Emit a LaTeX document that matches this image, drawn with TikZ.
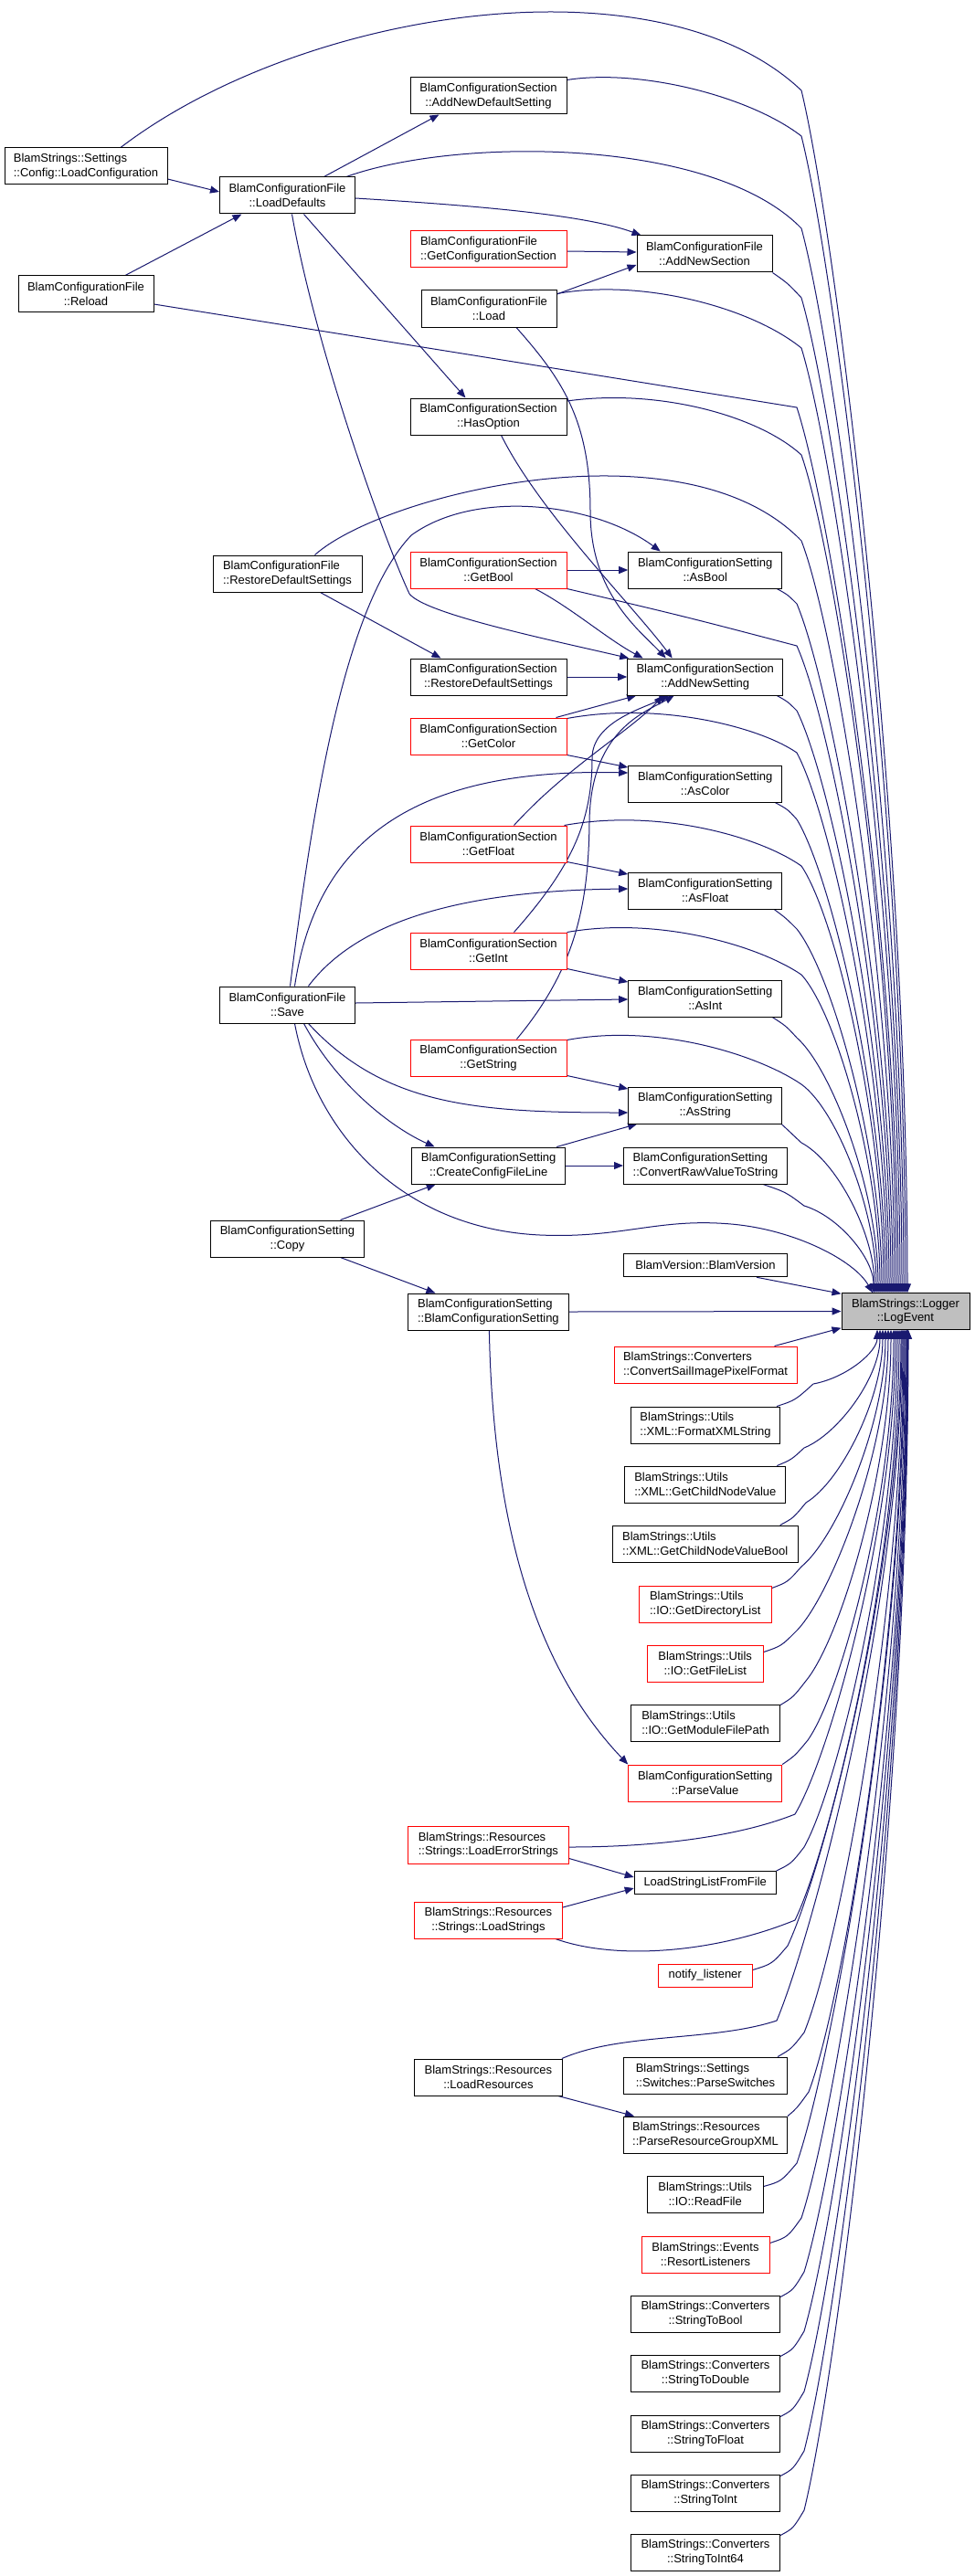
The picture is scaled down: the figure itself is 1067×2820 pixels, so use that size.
\documentclass[tikz,border=0pt]{standalone}
\usepackage{fontspec}
\setmainfont{Liberation Sans}
\usetikzlibrary{arrows.meta,calc}
\definecolor{edgec}{HTML}{191970}
\definecolor{legray}{HTML}{BFBFBF}
\newcommand{\gfont}{\fontsize{13pt}{15.5pt}\selectfont}
\pgfdeclarelayer{bg}
\pgfsetlayers{bg,main}
\tikzset{
 box/.style={draw=black, line width=1pt, fill=white, inner sep=0pt, align=center, font=\gfont, minimum height=40pt},
 rbox/.style={box, draw=red},
 lft/.style={align=left},
 edge/.style={draw=edgec, line width=1pt, -{Triangle[length=10pt,width=8pt]}},
}
\newcommand{\upLE}[5]{\draw[edge] #1 .. controls #2 .. (#3,#4) .. controls ({#3+38},{#4+0.12*(1416-#4)}) and ({991+#5},{#4+0.6*(1416-#4)}) .. ([xshift=#5pt]le.north);}
\newcommand{\dnLE}[5]{\draw[edge] #1 .. controls #2 .. (#3,#4) .. controls ({#3+38},{#4-0.12*(#4-1455)}) and ({991+#5},{#4-0.6*(#4-1455)}) .. ([xshift=#5pt]le.south);}
\begin{document}
\begin{tikzpicture}[x=1pt,y=-1pt]
\useasboundingbox (0,0) rectangle (1067,2820);
\begin{pgfonlayer}{bg}
\fill[white] (0,0) rectangle (1067,2820);
\end{pgfonlayer}
% nodes
\node[box,lft,minimum width=178pt] (lc) at (94,182) {BlamStrings::Settings\\::Config::LoadConfiguration};
\node[box,minimum width=148pt] (rl) at (94,322) {BlamConfigurationFile\\::Reload};
\node[box,minimum width=171pt] (ands) at (534.5,105) {BlamConfigurationSection\\::AddNewDefaultSetting};
\node[box,minimum width=148pt] (ld) at (314.5,214) {BlamConfigurationFile\\::LoadDefaults};
\node[rbox,lft,minimum width=171pt] (gcs) at (534.5,273) {BlamConfigurationFile\\::GetConfigurationSection};
\node[box,minimum width=148pt] (ans) at (771,278) {BlamConfigurationFile\\::AddNewSection};
\node[box,minimum width=148pt] (load) at (535,338) {BlamConfigurationFile\\::Load};
\node[box,minimum width=171pt] (ho) at (534.5,456) {BlamConfigurationSection\\::HasOption};
\node[box,lft,minimum width=163pt] (frds) at (314.5,628) {BlamConfigurationFile\\::RestoreDefaultSettings};
\node[rbox,minimum width=171pt] (gb) at (534.5,624) {BlamConfigurationSection\\::GetBool};
\node[box,minimum width=168pt] (ab) at (771.7,624) {BlamConfigurationSetting\\::AsBool};
\node[box,minimum width=171pt] (srds) at (534.5,741) {BlamConfigurationSection\\::RestoreDefaultSettings};
\node[box,minimum width=170pt] (ansg) at (771.7,741) {BlamConfigurationSection\\::AddNewSetting};
\node[rbox,minimum width=171pt] (gc) at (534.5,806) {BlamConfigurationSection\\::GetColor};
\node[box,minimum width=168pt] (ac) at (771.7,858) {BlamConfigurationSetting\\::AsColor};
\node[rbox,minimum width=171pt] (gf) at (534.5,924) {BlamConfigurationSection\\::GetFloat};
\node[box,minimum width=168pt] (af) at (771.7,975) {BlamConfigurationSetting\\::AsFloat};
\node[rbox,minimum width=171pt] (gi) at (534.5,1041) {BlamConfigurationSection\\::GetInt};
\node[box,minimum width=148pt] (save) at (314.5,1100) {BlamConfigurationFile\\::Save};
\node[box,minimum width=168pt] (ai) at (771.7,1093) {BlamConfigurationSetting\\::AsInt};
\node[rbox,minimum width=171pt] (gs) at (534.5,1158) {BlamConfigurationSection\\::GetString};
\node[box,minimum width=168pt] (as) at (771.7,1210) {BlamConfigurationSetting\\::AsString};
\node[box,minimum width=168pt] (ccfl) at (534.7,1276) {BlamConfigurationSetting\\::CreateConfigFileLine};
\node[box,lft,minimum width=179pt] (crv) at (772,1276) {BlamConfigurationSetting\\::ConvertRawValueToString};
\node[box,minimum width=168pt] (copy) at (314.5,1356) {BlamConfigurationSetting\\::Copy};
\node[box,minimum width=179pt,minimum height=25.5pt] (bv) at (772,1385) {BlamVersion::BlamVersion};
\node[box,fill=legray,minimum width=140pt,minimum height=39.5pt] (le) at (991,1435.5) {BlamStrings::Logger\\::LogEvent};
\node[box,lft,minimum width=176pt] (bcs) at (534.4,1436) {BlamConfigurationSetting\\::BlamConfigurationSetting};
\node[rbox,lft,minimum width=200pt] (csipf) at (772,1494) {BlamStrings::Converters\\::ConvertSailImagePixelFormat};
\node[box,lft,minimum width=163pt] (fxs) at (772,1560) {BlamStrings::Utils\\::XML::FormatXMLString};
\node[box,lft,minimum width=176pt] (gcnv) at (771.8,1625) {BlamStrings::Utils\\::XML::GetChildNodeValue};
\node[box,lft,minimum width=203pt] (gcnvb) at (771.7,1690) {BlamStrings::Utils\\::XML::GetChildNodeValueBool};
\node[rbox,lft,minimum width=145pt] (gdl) at (771.7,1756) {BlamStrings::Utils\\::IO::GetDirectoryList};
\node[rbox,minimum width=127pt] (gfl) at (771.7,1821) {BlamStrings::Utils\\::IO::GetFileList};
\node[box,lft,minimum width=163pt] (gmfp) at (772,1886) {BlamStrings::Utils\\::IO::GetModuleFilePath};
\node[rbox,minimum width=168pt] (pv) at (771.7,1952) {BlamConfigurationSetting\\::ParseValue};
\node[rbox,lft,minimum width=176pt,minimum height=41pt] (les) at (534.4,2019.5) {BlamStrings::Resources\\::Strings::LoadErrorStrings};
\node[box,minimum width=155pt,minimum height=25pt] (lslff) at (771.7,2061) {LoadStringListFromFile};
\node[rbox,minimum width=162pt] (ls) at (534.4,2102) {BlamStrings::Resources\\::Strings::LoadStrings};
\node[rbox,minimum width=103pt,minimum height=25pt] (nl) at (771.7,2162.5) {notify\_listener};
\node[box,minimum width=162pt] (lr) at (534.4,2274) {BlamStrings::Resources\\::LoadResources};
\node[box,lft,minimum width=179pt] (ps) at (772,2272) {BlamStrings::Settings\\::Switches::ParseSwitches};
\node[box,lft,minimum width=179pt] (prgx) at (772,2337) {BlamStrings::Resources\\::ParseResourceGroupXML};
\node[box,minimum width=127pt] (rf) at (771.7,2402) {BlamStrings::Utils\\::IO::ReadFile};
\node[rbox,minimum width=140pt] (rsl) at (772,2468) {BlamStrings::Events\\::ResortListeners};
\node[box,minimum width=163pt] (stb) at (772,2533) {BlamStrings::Converters\\::StringToBool};
\node[box,minimum width=163pt] (std) at (772,2598) {BlamStrings::Converters\\::StringToDouble};
\node[box,minimum width=163pt] (stf) at (772,2664) {BlamStrings::Converters\\::StringToFloat};
\node[box,minimum width=163pt] (sti) at (772,2729) {BlamStrings::Converters\\::StringToInt};
\node[box,minimum width=163pt] (sti64) at (772,2794) {BlamStrings::Converters\\::StringToInt64};
% edges
\begin{pgfonlayer}{bg}
\draw[edge] ($(lc.east)+(0,14)$) -- ($(ld.west)+(0,-4)$);
\draw[edge] ($(rl.north)+(43,0)$) -- ($(ld.south)+(-50,0)$);
\draw[edge] ($(ld.north)+(40,0)$) -- ($(ands.south)+(-54,0)$);
\draw[edge] ($(ld.east)+(0,3)$) .. controls (520,225) and (640,235) .. ($(ans.north west)+(5,0)$);
\draw[edge] ($(gcs.east)+(0,2)$) -- ($(ans.west)+(0,-2)$);
\draw[edge] ($(load.east)+(0,-16)$) -- ($(ans.west)+(0,12)$);
\draw[edge] ($(ld.south)+(18,0)$) -- ($(ho.north)+(-25,0)$);
\draw[edge] ($(ld.south)+(5,0)$) .. controls (345,380) and (420,590) .. (448,650) .. controls (465,672) and (600,700) .. ($(ansg.north west)+(2,0)$);
\draw[edge] ($(load.south)+(30,0)$) .. controls (615,415) and (646,460) .. (646,560) .. controls (646,650) and (700,690) .. ($(ansg.north)+(-43,0)$);
\draw[edge] ($(ho.south)+(14,0)$) .. controls (590,560) and (690,660) .. ($(ansg.north)+(-36,0)$);
\draw[edge] ($(frds.south)+(36,0)$) -- ($(srds.north)+(-52,0)$);
\draw[edge] (gb.east) -- (ab.west);
\draw[edge] ($(gb.south)+(51,0)$) .. controls (625,665) and (665,700) .. ($(ansg.north)+(-68,0)$);
\draw[edge] ($(save.north)+(3,0)$) .. controls (345,860) and (380,660) .. (450,586) .. controls (520,535) and (650,550) .. ($(ab.north)+(-49,0)$);
\draw[edge] (srds.east) -- (ansg.west);
\draw[edge] ($(gc.north east)+(-12,0)$) -- ($(ansg.south west)+(10,0)$);
\draw[edge] (gc.south east) -- ($(ac.west)+(0,-18)$);
\draw[edge] ($(save.north)+(8,0)$) .. controls (345,930) and (440,840) .. ($(ac.west)+(0,-12)$);
\draw[edge] ($(gf.north)+(28,0)$) .. controls (620,840) and (690,800) .. ($(ansg.south)+(-46,0)$);
\draw[edge] ($(gf.south east)+(0,-1)$) -- ($(af.west)+(0,-18)$);
\draw[edge] ($(save.north)+(23,0)$) .. controls (390,1010) and (500,975) .. ($(af.west)+(0,-2)$);
\draw[edge] ($(gi.north)+(28,0)$) .. controls (625,950) and (648,900) .. (648,830) .. controls (648,790) and (705,775) .. ($(ansg.south)+(-40,0)$);
\draw[edge] ($(gi.south east)+(0,-1)$) -- ($(ai.west)+(0,-18)$);
\draw[edge] ($(save.east)+(0,-2)$) -- ($(ai.west)+(0,1)$);
\draw[edge] ($(gs.north)+(31,0)$) .. controls (630,1060) and (644,990) .. (645,900) .. controls (646,800) and (705,780) .. ($(ansg.south)+(-34,0)$);
\draw[edge] ($(gs.south east)+(0,-1)$) -- ($(as.west)+(0,-18)$);
\draw[edge] ($(save.south)+(18,0)$) .. controls (370,1190) and (430,1235) .. ($(ccfl.north)+(-59,0)$);
\draw[edge] ($(save.south)+(23,0)$) .. controls (420,1210) and (520,1218) .. ($(as.west)+(0,8)$);
\draw[edge] ($(ccfl.north east)+(-10,0)$) -- ($(as.south west)+(10,0)$);
\draw[edge] (ccfl.east) -- (crv.west);
\draw[edge] ($(copy.north)+(58,0)$) -- ($(ccfl.south)+(-58,0)$);
\draw[edge] ($(copy.south)+(58,0)$) -- ($(bcs.north)+(-58,0)$);
\draw[edge] (bcs.east) -- (le.west);
\draw[edge] ($(bcs.south)+(1,0)$) .. controls (540,1700) and (600,1840) .. (pv.north west);
\draw[edge] ($(les.east)+(0,15)$) -- ($(lslff.west)+(0,-6)$);
\draw[edge] ($(ls.east)+(0,-14)$) -- ($(lslff.west)+(0,6)$);
\draw[edge] ($(lr.south east)+(-5,0)$) -- ($(prgx.north west)+(12,0)$);
% upper edges to LogEvent
\upLE{($(lc.north)+(38,0)$)}{(330,10) and (720,-50)}{877}{99}{2}
\upLE{($(ands.north east)+(0,3)$)}{(700,75) and (820,105)}{877}{149}{0}
\upLE{($(ld.north east)+(-10,0)$)}{(500,150) and (780,150)}{877}{250}{-2}
\upLE{(ans.south east)}{(862,310)}{877}{326}{-4}
\upLE{($(load.north east)+(0,4)$)}{(700,305) and (820,335)}{877}{381}{-6}
\upLE{($(rl.east)+(0,11)$)}{(500,386)}{872}{446}{-8}
\upLE{($(ho.east)+(0,-17)$)}{(720,425) and (830,455)}{877}{498}{-10}
\upLE{($(frds.north)+(30,0)$)}{(420,540) and (750,460)}{877}{592}{-12}
\upLE{($(ab.south east)+(-6,0)$)}{(862,651)}{872}{661}{-14}
\upLE{(gb.south east)}{(750,675)}{872}{707}{-16}
\upLE{($(ansg.south east)+(-7,0)$)}{(862,768)}{872}{778}{-18}
\upLE{($(gc.north east)+(0,1)$)}{(720,768) and (830,795)}{872}{824}{-20}
\upLE{($(ac.south east)+(-8,0)$)}{(862,886)}{872}{897}{-22}
\upLE{($(gf.north east)+(-3,0)$)}{(720,885) and (830,915)}{877}{948}{-24}
\upLE{($(af.south east)+(-9,0)$)}{(860,1005)}{872}{1017}{-26}
\upLE{(gi.north east)}{(720,1003) and (830,1035)}{877}{1067}{-28}
\upLE{($(ai.south east)+(-11,0)$)}{(860,1123)}{872}{1136}{-30}
\upLE{($(gs.north east)+(0,1)$)}{(720,1120) and (830,1155)}{877}{1187}{-32}
\upLE{($(as.south east)+(-1,0)$)}{(866,1240)}{877}{1251}{-34}
\upLE{($(crv.south east)+(-27,0)$)}{(860,1305)}{880}{1320}{-35}
\draw[edge] ($(save.south)+(8,0)$) .. controls (345,1240) and (440,1345) .. (591,1352) .. controls (680,1356) and (720,1333) .. (800,1340) .. controls (870,1346) and (935,1380) .. ([xshift=-36pt]le.north);
\draw[edge] ($(bv.south east)+(-34,0)$) -- ($(le.north west)+(0,1)$);
\draw[edge] ($(csipf.north east)+(-25,0)$) -- ($(le.south west)+(0,-2)$);
% lower edges to LogEvent
\dnLE{($(fxs.north east)+(-4,0)$)}{(870,1533)}{890}{1515}{-31}
\dnLE{($(gcnv.north east)+(-10,0)$)}{(866,1598)}{880}{1585}{-28}
\dnLE{($(gcnvb.north east)+(-20,0)$)}{(868,1662)}{882}{1645}{-25}
\dnLE{($(gdl.north east)+(0,3)$)}{(862,1732)}{877}{1715}{-22}
\dnLE{($(gfl.north east)+(0,8)$)}{(855,1802)}{872}{1785}{-19}
\dnLE{($(gmfp.north east)+(0,1)$)}{(868,1858)}{882}{1840}{-16}
\dnLE{(pv.north east)}{(870,1922)}{884}{1905}{-13}
\dnLE{($(les.east)+(0,2.5)$)}{(720,2022) and (810,2010)}{870}{1986}{-11}
\dnLE{(lslff.north east)}{(866,2040)}{880}{2022}{-9}
\dnLE{($(ls.south east)+(-8,0)$)}{(680,2148) and (790,2135)}{870}{2102}{-7}
\dnLE{($(nl.east)+(0,-6)$)}{(845,2150)}{862}{2130}{-5}
\dnLE{($(lr.north east)+(-1,0)$)}{(680,2225) and (780,2235)}{850}{2212}{-4}
\dnLE{($(ps.north east)+(-11,0)$)}{(866,2243)}{880}{2225}{-3}
\dnLE{(prgx.north east)}{(872,2308)}{885}{2290}{-2}
\dnLE{($(rf.north east)+(0,12)$)}{(855,2388)}{872}{2368}{-1}
\dnLE{($(rsl.north east)+(0,8)$)}{(862,2449)}{877}{2428}{0}
\dnLE{($(stb.north east)+(0,2)$)}{(868,2507)}{880}{2487}{1}
\dnLE{($(std.north east)+(0,2)$)}{(868,2572)}{880}{2552}{1.5}
\dnLE{($(stf.north east)+(0,2)$)}{(868,2638)}{880}{2618}{2}
\dnLE{($(sti.north east)+(0,2)$)}{(868,2703)}{880}{2683}{2.5}
\dnLE{($(sti64.north east)+(0,2)$)}{(868,2768)}{880}{2748}{3}
\end{pgfonlayer}
\end{tikzpicture}
\end{document}
